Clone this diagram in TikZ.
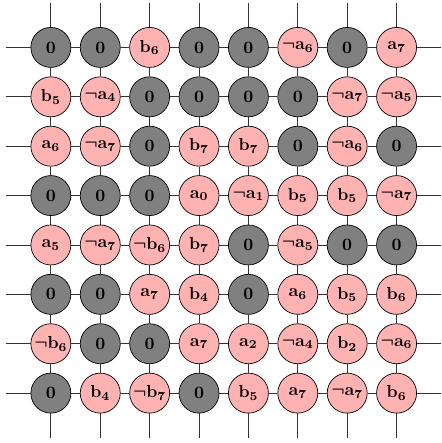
\documentclass[tikz,border=0pt]{standalone}
\usepackage{amsmath}
\usetikzlibrary{positioning}

\begin{document}
\begin{tikzpicture}[
  font=\boldmath,
  cell/.style={draw, circle, minimum size=8.1mm, inner sep=0pt},
  zero/.style={cell, fill=gray},
  lit/.style ={cell, fill=red!30},
  wire/.style={draw=black!80, line width=0.5pt},
]
\useasboundingbox (-0.03,-9.01) rectangle (8.9,-0.04);
% grid of cells, row by row
\foreach \cells [count=\r] in {
  {zero/0, zero/0, lit/b_6, zero/0, zero/0, lit/\neg a_6, zero/0, lit/a_7},
  {lit/b_5, lit/\neg a_4, zero/0, zero/0, zero/0, zero/0, lit/\neg a_7, lit/\neg a_5},
  {lit/a_6, lit/\neg a_7, zero/0, lit/b_7, lit/b_7, zero/0, lit/\neg a_6, zero/0},
  {zero/0, zero/0, zero/0, lit/a_0, lit/\neg a_1, lit/b_5, lit/b_5, lit/\neg a_7},
  {lit/a_5, lit/\neg a_7, lit/\neg b_6, lit/b_7, zero/0, lit/\neg a_5, zero/0, zero/0},
  {zero/0, zero/0, lit/a_7, lit/b_4, zero/0, lit/a_6, lit/b_5, lit/b_6},
  {lit/\neg b_6, zero/0, zero/0, lit/a_7, lit/a_2, lit/\neg a_4, lit/b_2, lit/\neg a_6},
  {zero/0, lit/b_4, lit/\neg b_7, zero/0, lit/b_5, lit/a_7, lit/\neg a_7, lit/b_6}}
  \foreach \kind/\val [count=\c] in \cells
    \node[\kind] (n-\r-\c) at (\c,-\r) {$\mathbf{\val}$};
% free ends of the wires
\foreach \i in {1,...,8} {
  \coordinate (w\i) at (0.1,-\i);
  \coordinate (e\i) at (8.9,-\i);
  \coordinate (t\i) at (\i,-0.1);
  \coordinate (b\i) at (\i,-8.9);
}
% wires
\foreach \i in {1,...,8} {
  \draw[wire] (w\i) -- (n-\i-1);
  \draw[wire] (n-\i-8) -- (e\i);
  \draw[wire] (t\i) -- (n-1-\i);
  \draw[wire] (n-8-\i) -- (b\i);
  \foreach \a/\b in {1/2, 2/3, 3/4, 4/5, 5/6, 6/7, 7/8} {
    \draw[wire] (n-\i-\a) -- (n-\i-\b);
    \draw[wire] (n-\a-\i) -- (n-\b-\i);
  }
}
\end{tikzpicture}
\end{document}
